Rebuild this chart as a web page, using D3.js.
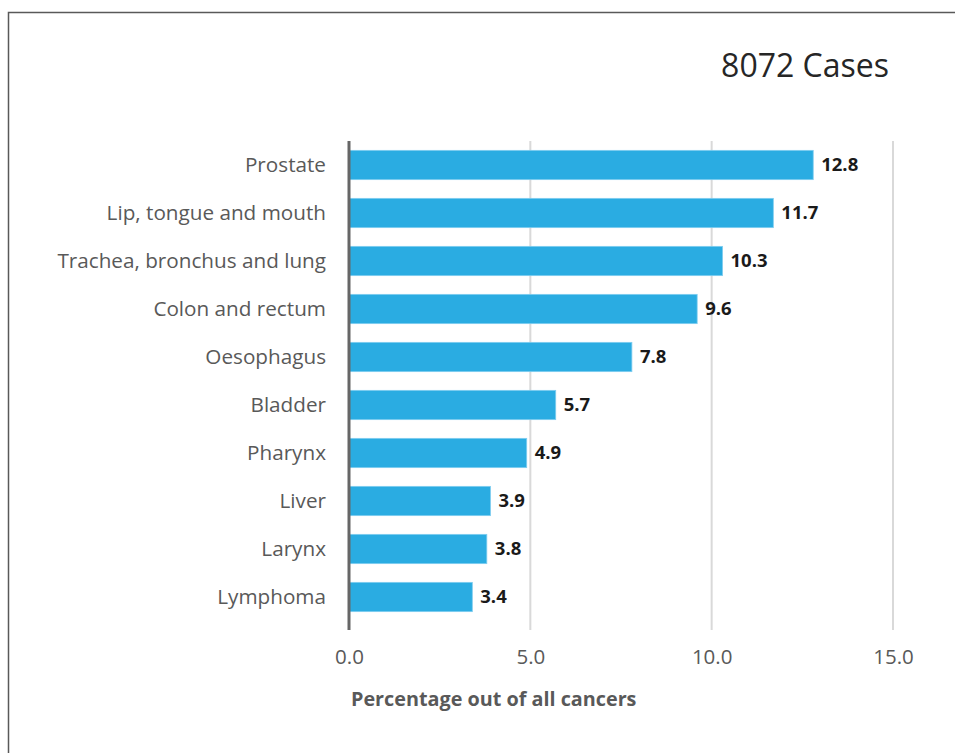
<!DOCTYPE html>
<html><head><meta charset="utf-8">
<script src="https://cdn.jsdelivr.net/npm/d3@7"></script>
<style>body{margin:0;background:#fff}svg{display:block}</style>
</head><body>
<script>
const categories = ["Prostate","Lip, tongue and mouth","Trachea, bronchus and lung","Colon and rectum","Oesophagus","Bladder","Pharynx","Liver","Larynx","Lymphoma"];
const values = [12.8,11.7,10.3,9.6,7.8,5.7,4.9,3.9,3.8,3.4];
const xTicks = [0,5,10,15];
const title = "8072 Cases";
const xTitle = "Percentage out of all cancers";

const W = 955, H = 753;
const svg = d3.select("body").append("svg").attr("width", W).attr("height", H);
const font = "'Open Sans', sans-serif";

// frame
svg.append("path").attr("d", `M${W+2},12.5 H8.5 V${H+2}`).attr("fill","none").attr("stroke","#595959").attr("stroke-width",1.5);

const x = d3.scaleLinear().domain([0,15]).range([349,893]);
const y = d3.scaleBand().domain(categories).range([141,621]).paddingInner(0.39).paddingOuter(0.195);
const plotBottom = 630;

// gridlines
svg.append("g").selectAll("line").data(xTicks.filter(d=>d>0)).join("line")
  .attr("x1",d=>x(d)).attr("x2",d=>x(d)).attr("y1",141).attr("y2",plotBottom)
  .attr("stroke","#d9d9d9").attr("stroke-width",2);

// bars
svg.append("g").selectAll("rect").data(values).join("rect")
  .attr("x",x(0)).attr("y",(d,i)=>y(categories[i]))
  .attr("width",d=>x(d)-x(0)).attr("height",y.bandwidth())
  .attr("fill","#2aace2").attr("stroke","#7fcdef").attr("stroke-width",0.8);

// value labels
svg.append("g").selectAll("text").data(values).join("text")
  .attr("x",d=>x(d)+8).attr("y",(d,i)=>y(categories[i])+y.bandwidth()/2)
  .attr("dy","0.35em").attr("font-family",font).attr("font-weight","bold")
  .attr("font-size",18.5).attr("fill","#1a1a1a").text(d=>d.toFixed(1));

// y axis
const yAxis = d3.axisLeft(y).tickSize(0).tickPadding(23);
const gy = svg.append("g").attr("transform",`translate(${x(0)},0)`).call(yAxis);
gy.select(".domain").remove();
gy.selectAll("text").attr("font-family",font).attr("font-size",20.7).attr("fill","#595959");
svg.append("line").attr("x1",x(0)).attr("x2",x(0)).attr("y1",141).attr("y2",plotBottom)
  .attr("stroke","#666").attr("stroke-width",3);

// x axis
const xAxis = d3.axisBottom(x).tickValues(xTicks).tickSize(0).tickPadding(19).tickFormat(d3.format(".1f"));
const gx = svg.append("g").attr("transform",`translate(0,${plotBottom})`).call(xAxis);
gx.select(".domain").remove();
gx.selectAll("text").attr("font-family",font).attr("font-size",20.5).attr("fill","#595959");

// axis title
svg.append("text").attr("x",351).attr("y",706).attr("font-family",font).attr("font-weight","bold")
  .attr("font-size",19.8).attr("fill","#595959").text(xTitle);

// title
svg.append("text").attr("x",889).attr("y",77).attr("text-anchor","end").attr("font-family",font)
  .attr("font-size",32).attr("fill","#262626").text(title);
</script>
</body></html>
